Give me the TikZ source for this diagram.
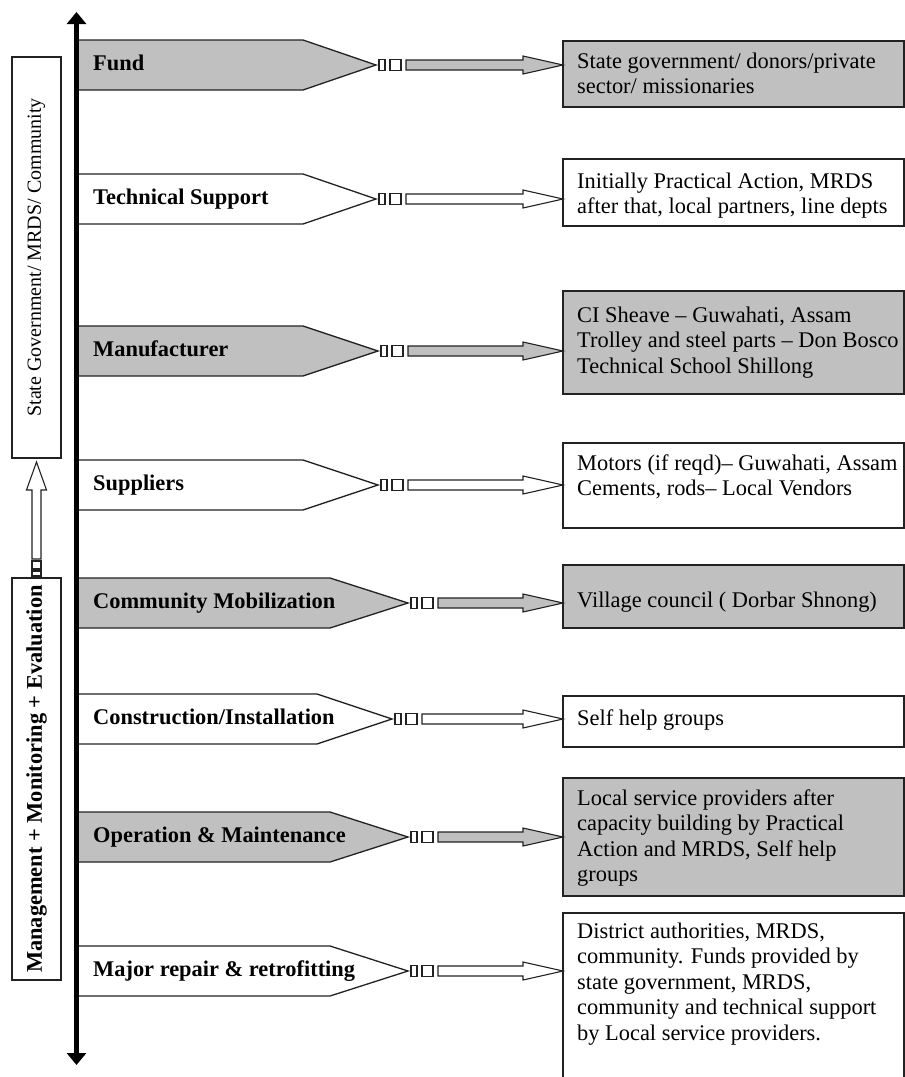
\documentclass[tikz,border=0pt]{standalone}
\usepackage{fontspec}
\setmainfont{Liberation Serif}
\usetikzlibrary{arrows.meta,calc}
\definecolor{shade}{HTML}{C0C0C0}
\definecolor{edge}{HTML}{222222}

% row: name, centre y, slant start x, tip x, fill, label
\newcommand\myrow[6]{%
  \filldraw[penta, fill=#5] (77,#2-25) -- (#3,#2-25) -- (#4,#2) -- (#3,#2+25) -- (77,#2+25) -- cycle;
  \node[lab, anchor=base west] (#1) at (93,#2+5) {#6};
  \coordinate (#1tip) at (#4,#2);
}
% connector: tip coordinate, box name, fill
\newcommand\myconn[3]{%
  \draw[sq] ([shift={(3,-5.5)}]#1) rectangle ([shift={(9,5.5)}]#1);
  \draw[sq] ([shift={(14,-5.5)}]#1) rectangle ([shift={(25,5.5)}]#1);
  \draw[harrow, fill=#3] let \p1=(#1), \p2=(#2.west) in
    (\x1+30pt,\y1+5pt) -- (\x2-40pt,\y1+5pt) -- (\x2-40pt,\y1+9pt) -- (\x2,\y1)
    -- (\x2-40pt,\y1-9pt) -- (\x2-40pt,\y1-5pt) -- (\x1+30pt,\y1-5pt) -- cycle;
}

\begin{document}
\begin{tikzpicture}[x=1pt,y=-1pt,
  penta/.style={draw=edge, line width=1.3pt, line join=miter},
  lab/.style={font=\fontsize{22.4}{26}\selectfont\bfseries, inner sep=0pt},
  rbox/.style={draw=edge, line width=1.5pt, anchor=north west, minimum width=341pt, inner sep=0pt, outer sep=0pt},
  rtext/.style={font=\fontsize{22.4}{25.5}\selectfont, align=left, anchor=north west, inner sep=0pt},
  lbox/.style={draw=edge, line width=1.5pt, rotate=90, minimum height=49pt, inner sep=0pt, outer sep=0pt, fill=white},
  sq/.style={draw=edge, line width=1.1pt, fill=white},
  harrow/.style={draw=edge, line width=1.1pt, line join=miter}]

\useasboundingbox (0,0) rectangle (905,1077);
\clip (0,0) rectangle (905,1077);

% right boxes
\node[rbox, fill=shade, minimum height=66] (b1) at (563,41) {};
\node[rbox, fill=white, minimum height=67] (b2) at (563,159) {};
\node[rbox, fill=shade, minimum height=103] (b3) at (563,291) {};
\node[rbox, fill=white, minimum height=85] (b4) at (563,443) {};
\node[rbox, fill=shade, minimum height=63] (b5) at (563,565) {};
\node[rbox, fill=white, minimum height=51] (b6) at (563,696) {};
\node[rbox, fill=shade, minimum height=118] (b7) at (563,778) {};
\node[rbox, fill=white, minimum height=180] (b8) at (563,913) {};

\node[rtext] (t1) at (577,68-16) {\rule{0pt}{16pt}State government/ donors/private\\sector/ missionaries};
\node[rtext] (t2) at (577,188-16) {\rule{0pt}{16pt}Initially Practical Action, MRDS\\after that, local partners, line depts};
\node[rtext] (t3) at (577,322-16) {\rule{0pt}{16pt}CI Sheave -- Guwahati, Assam\\Trolley and steel parts -- Don Bosco\\Technical School Shillong};
\node[rtext] (t4) at (577,470-16) {\rule{0pt}{16pt}Motors (if reqd)-- Guwahati, Assam\\Cements, rods-- Local Vendors};
\node[rtext] (t5) at (577,607-16) {\rule{0pt}{16pt}Village council ( Dorbar Shnong)};
\node[rtext] (t6) at (577,725-16) {\rule{0pt}{16pt}Self help groups};
\node[rtext] (t7) at (577,805-16) {\rule{0pt}{16pt}Local service providers after\\capacity building by Practical\\Action and MRDS, Self help\\groups};
\node[rtext] (t8) at (577,938-16) {\rule{0pt}{16pt}District authorities, MRDS,\\community. Funds provided by\\state government, MRDS,\\community and technical support\\by Local service providers.};

% pentagon rows
\myrow{r1}{65}{303}{376}{shade}{Fund}
\myrow{r2}{199}{303}{376}{white}{Technical Support}
\myrow{r3}{351}{303}{378}{shade}{Manufacturer}
\myrow{r4}{485}{303}{378}{white}{Suppliers}
\myrow{r5}{603}{330}{408}{shade}{Community Mobilization}
\myrow{r6}{719}{317}{392}{white}{Construction/Installation}
\myrow{r7}{837}{330}{408}{shade}{Operation \& Maintenance}
\myrow{r8}{971}{330}{408}{white}{Major repair \& retrofitting}

% connectors
\myconn{r1tip}{b1}{shade}
\myconn{r2tip}{b2}{white}
\myconn{r3tip}{b3}{shade}
\myconn{r4tip}{b4}{white}
\myconn{r5tip}{b5}{shade}
\myconn{r6tip}{b6}{white}
\myconn{r7tip}{b7}{shade}
\myconn{r8tip}{b8}{white}

% vertical axis
\coordinate (axtop) at (76.5,12);
\coordinate (axbot) at (76.5,1065);
\draw[line width=4.5pt, {Triangle[width=19pt,length=12pt]}-{Triangle[width=19pt,length=12pt]}] (axtop) -- (axbot);

% left boxes
\node[lbox, minimum width=401pt, font=\fontsize{20}{24}\selectfont] (upper) at (36.5,257.5) {State Government/ MRDS/ Community};
\node[lbox, minimum width=402pt, font=\fontsize{22.4}{26}\selectfont\bfseries] (lower) at (36.5,779) {Management + Monitoring + Evaluation};

% upward connector
\draw[sq] ([shift={(-4.5,-2)}]lower.east) rectangle ([shift={(4.5,-7)}]lower.east);
\draw[sq] ([shift={(-4.5,-9)}]lower.east) rectangle ([shift={(4.5,-17)}]lower.east);
\draw[harrow, fill=white] let \p1=(lower.east), \p2=(upper.west) in
  (\x1-4.5pt,\y1+19pt) -- (\x1-4.5pt,\y2-32pt) -- (\x1-10pt,\y2-32pt) -- (\x1,\y2-4pt)
  -- (\x1+10pt,\y2-32pt) -- (\x1+4.5pt,\y2-32pt) -- (\x1+4.5pt,\y1+19pt) -- cycle;
\end{tikzpicture}
\end{document}
